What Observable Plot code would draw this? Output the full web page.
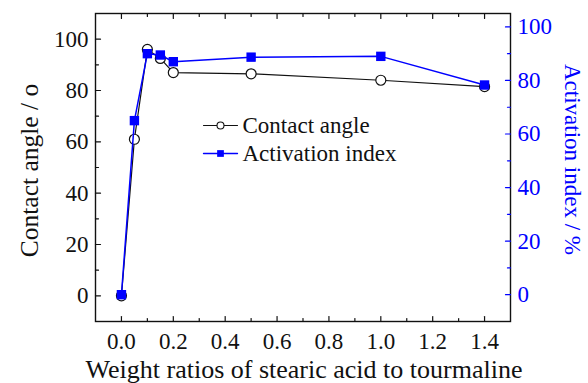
<!DOCTYPE html>
<html>
<head>
<meta charset="utf-8">
<script src="https://cdn.jsdelivr.net/npm/d3@7"></script>
<script src="https://cdn.jsdelivr.net/npm/@observablehq/plot@0.6"></script>
<style>
  body { margin: 0; background: #fff; }
  #chart svg text { font-family: "Liberation Serif", "Times New Roman", serif !important; }
</style>
</head>
<body>
<div id="chart"></div>
<script>
// Weight ratio of stearic acid to tourmaline
const ratios = [0, 0.05, 0.1, 0.15, 0.2, 0.5, 1.0, 1.4];
// Contact angle (degrees), left axis
const contactAngle = [0, 61, 96, 92.5, 87, 86.5, 84, 81.5];
// Activation index (%), right axis
const activationIndex = [0, 65, 90, 89.5, 87, 88.7, 89, 78.3];

const xTicks = [0, 0.2, 0.4, 0.6, 0.8, 1.0, 1.2, 1.4];
const xMinorTicks = [0.1, 0.3, 0.5, 0.7, 0.9, 1.1, 1.3];
const angleTicks = [0, 20, 40, 60, 80, 100];
const angleMinorTicks = [10, 30, 50, 70, 90];
const indexTicks = [0, 20, 40, 60, 80, 100];
const indexMinorTicks = [10, 30, 50, 70, 90];
const legendLabels = ["Contact angle", "Activation index"];
const xTitle = "Weight ratios of stearic acid to tourmaline";
const leftTitle = "Contact angle / o";
const rightTitle = "Activation index / %";

const BLUE = "#0000ff";
const INK = "#111";
const SERIF = "Liberation Serif";

const angleDomain = [-10, 110];
const indexDomain = [-10, 105];
// the right axis shares the plot's y scale through this linear mapping
const toAngle = d3.scaleLinear().domain(indexDomain).range(angleDomain);

const angleData = ratios.map((x, i) => ({x, y: contactAngle[i]}));
const indexData = ratios.map((x, i) => ({x, y: toAngle(activationIndex[i])}));

// plain straight tick line for vectors
const tickShape = {draw(context, l) { context.moveTo(0, 0); context.lineTo(0, -l); }};
const ticks = (values, channel, anchor, rotate, length, stroke = INK) =>
  Plot.vector(values, {[channel]: d => d, frameAnchor: anchor, anchor: "start", rotate, length,
    shape: tickShape, stroke, strokeWidth: 1.2});

const chart = Plot.plot({
  width: 588,
  height: 383,
  marginLeft: 95,
  marginRight: 78,
  marginTop: 13,
  marginBottom: 62,
  style: {background: "#fff", color: INK},
  x: {domain: [-0.1, 1.5]},
  y: {domain: angleDomain},
  marks: [
    Plot.frame({stroke: INK, strokeWidth: 1.4}),
    // inward tick marks
    ticks(xTicks, "x", "bottom", 0, 5),
    ticks(xMinorTicks, "x", "bottom", 0, 3),
    ticks(xTicks, "x", "top", 180, 5),
    ticks(xMinorTicks, "x", "top", 180, 3),
    ticks(angleTicks, "y", "left", 90, 5),
    ticks(angleMinorTicks, "y", "left", 90, 3),
    ticks(indexTicks.map(toAngle), "y", "right", -90, 5, BLUE),
    ticks(indexMinorTicks.map(toAngle), "y", "right", -90, 3, BLUE),
    // tick labels
    Plot.axisX({ticks: xTicks, tickSize: 0, tickPadding: 11, tickFormat: d3.format(".1f"),
      label: null, fontSize: 23, fill: INK}),
    Plot.axisY({ticks: angleTicks, tickSize: 0, tickPadding: 7, label: null, fontSize: 23, fill: INK}),
    Plot.axisY({anchor: "right", ticks: indexTicks.map(toAngle), tickSize: 0, tickPadding: 7,
      tickFormat: d => Math.round(toAngle.invert(d)), label: null, fontSize: 23,
      fill: BLUE, color: BLUE, stroke: BLUE, line: true, strokeWidth: 1.5}),
    // axis titles
    Plot.text([xTitle], {text: d => d, frameAnchor: "bottom", dx: 1, dy: 48, fontSize: 26,
      textAnchor: "middle", lineAnchor: "middle", fill: INK}),
    Plot.text([leftTitle], {text: d => d, frameAnchor: "left", dx: -66, dy: 3, rotate: -90,
      fontSize: 25.5, textAnchor: "middle", lineAnchor: "middle", fill: INK}),
    Plot.text([rightTitle], {text: d => d, frameAnchor: "right", dx: 62, dy: -8, rotate: 90,
      fontSize: 23, textAnchor: "middle", lineAnchor: "middle", fill: BLUE}),
    // series
    Plot.line(angleData, {x: "x", y: "y", stroke: INK, strokeWidth: 1.2}),
    Plot.dot(angleData, {x: "x", y: "y", r: 5, stroke: INK, fill: "#fff", strokeWidth: 1.2}),
    Plot.line(indexData, {x: "x", y: "y", stroke: BLUE, strokeWidth: 1.5}),
    Plot.dot(indexData, {x: "x", y: "y", symbol: "square", r: 5.3, fill: BLUE, stroke: "none"}),
    // legend
    Plot.vector([0], {frameAnchor: "top-left", dx: 108, dy: 112, rotate: 90, length: 34, anchor: "start",
      shape: tickShape, stroke: INK, strokeWidth: 1.1}),
    Plot.dot([0], {frameAnchor: "top-left", dx: 125, dy: 112, r: 3.5, stroke: INK, fill: "#fff", strokeWidth: 1.1}),
    Plot.text([legendLabels[0]], {text: d => d, frameAnchor: "top-left", dx: 147, dy: 112,
      textAnchor: "start", lineAnchor: "middle", fontSize: 23, fill: INK}),
    Plot.vector([0], {frameAnchor: "top-left", dx: 108, dy: 140, rotate: 90, length: 34, anchor: "start",
      shape: tickShape, stroke: BLUE, strokeWidth: 1.3}),
    Plot.dot([0], {frameAnchor: "top-left", dx: 125, dy: 140, symbol: "square", r: 3.8, fill: BLUE, stroke: "none"}),
    Plot.text([legendLabels[1]], {text: d => d, frameAnchor: "top-left", dx: 147, dy: 140,
      textAnchor: "start", lineAnchor: "middle", fontSize: 23, fill: INK})
  ]
});

d3.select(chart).selectAll("text").style("font-family", SERIF);
document.getElementById("chart").append(chart);
</script>
</body>
</html>
